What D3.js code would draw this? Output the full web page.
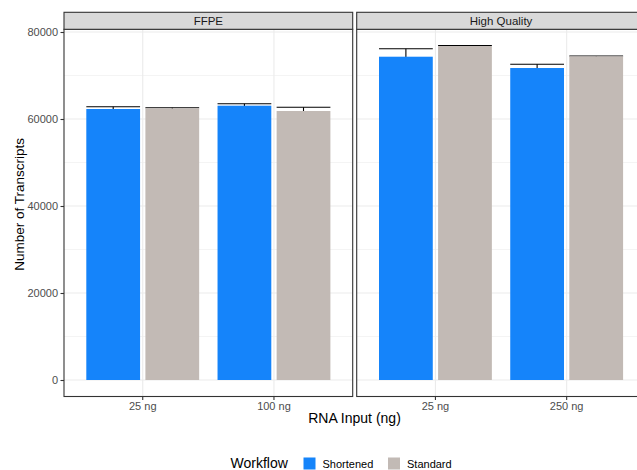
<!DOCTYPE html>
<html>
<head>
<meta charset="utf-8">
<script src="https://cdn.jsdelivr.net/npm/d3@7"></script>
<style>
	body { margin: 0; background: #fff; }
	svg { display: block; font-family: "Liberation Sans", Arial, Helvetica, sans-serif; }
</style>
</head>
<body>
<div id="chart"></div>
<script>
// data
var facets = ["FFPE", "High Quality"];
var ffpeInputs = ["25 ng", "100 ng"];
var hqInputs = ["25 ng", "250 ng"];
var workflows = ["Shortened", "Standard"];

var ffpeShortened = [62300, 63060];
var ffpeShortenedSd = [530, 460];
var ffpeStandard = [62450, 61840];
var ffpeStandardSd = [150, 850];

var hqShortened = [74320, 71720];
var hqShortenedSd = [1840, 850];
var hqStandard = [76780, 74410];
var hqStandardSd = [100, 60];

var yTicks = [0, 20000, 40000, 60000, 80000];
var yMinor = [10000, 30000, 50000, 70000];

function rows(inputs, shortened, shortSd, standard, stdSd) {
	var out = [];
	inputs.forEach(function (inp, i) {
		out.push({ input: inp, workflow: "Shortened", value: shortened[i], sd: shortSd[i] });
		out.push({ input: inp, workflow: "Standard", value: standard[i], sd: stdSd[i] });
	});
	return out;
}

var panels = [
	{ name: facets[0], inputs: ffpeInputs, data: rows(ffpeInputs, ffpeShortened, ffpeShortenedSd, ffpeStandard, ffpeStandardSd), left: 64, right: 352.7 },
	{ name: facets[1], inputs: hqInputs, data: rows(hqInputs, hqShortened, hqShortenedSd, hqStandard, hqStandardSd), left: 356.7, right: 645.4 }
];

function renderChart() {
	var W = 637, H = 470;
	var stripTop = 12.3, panelTop = 29.3, panelBottom = 396.5;

	var svg = d3.select("#chart")
		.append("svg")
		.attr("width", W)
		.attr("height", H);

	var y = d3.scaleLinear()
		.domain([0, 80000])
		.range([380, 32]);

	var color = d3.scaleOrdinal()
		.domain(workflows)
		.range(["#1584fa", "#c2bab5"]);

	panels.forEach(function (p) {
		var g = svg.append("g");

		var x = d3.scaleBand()
			.domain(p.inputs)
			.range([p.left, p.right])
			.paddingInner(0)
			.paddingOuter(0.1);

		var xInner = d3.scaleBand()
			.domain(workflows)
			.range([0.07 * x.bandwidth(), 0.93 * x.bandwidth()])
			.paddingInner(0.09);

		// grid
		g.selectAll("line.minor")
			.data(yMinor)
			.enter()
			.append("line")
			.attr("x1", p.left).attr("x2", p.right)
			.attr("y1", function (d) { return y(d); })
			.attr("y2", function (d) { return y(d); })
			.attr("stroke", "#ebebeb")
			.attr("stroke-width", 0.55);

		g.selectAll("line.major")
			.data(yTicks)
			.enter()
			.append("line")
			.attr("x1", p.left).attr("x2", p.right)
			.attr("y1", function (d) { return y(d); })
			.attr("y2", function (d) { return y(d); })
			.attr("stroke", "#ebebeb")
			.attr("stroke-width", 1.1);

		g.selectAll("line.vgrid")
			.data(p.inputs)
			.enter()
			.append("line")
			.attr("x1", function (d) { return x(d) + x.bandwidth() / 2; })
			.attr("x2", function (d) { return x(d) + x.bandwidth() / 2; })
			.attr("y1", panelTop).attr("y2", panelBottom)
			.attr("stroke", "#ebebeb")
			.attr("stroke-width", 1.1);

		// error bars sit under the bars
		var eb = g.selectAll("g.err")
			.data(p.data)
			.enter()
			.append("g");

		eb.append("line")
			.attr("x1", function (d) { return x(d.input) + xInner(d.workflow) + xInner.bandwidth() / 2; })
			.attr("x2", function (d) { return x(d.input) + xInner(d.workflow) + xInner.bandwidth() / 2; })
			.attr("y1", function (d) { return y(d.value - d.sd); })
			.attr("y2", function (d) { return y(d.value + d.sd); })
			.attr("stroke", "#000")
			.attr("stroke-width", 1.1);

		eb.append("line")
			.attr("x1", function (d) { return x(d.input) + xInner(d.workflow); })
			.attr("x2", function (d) { return x(d.input) + xInner(d.workflow) + xInner.bandwidth(); })
			.attr("y1", function (d) { return y(d.value + d.sd); })
			.attr("y2", function (d) { return y(d.value + d.sd); })
			.attr("stroke", "#000")
			.attr("stroke-width", 1.1);

		g.selectAll("rect.bar")
			.data(p.data)
			.enter()
			.append("rect")
			.attr("x", function (d) { return x(d.input) + xInner(d.workflow); })
			.attr("y", function (d) { return y(d.value); })
			.attr("width", xInner.bandwidth())
			.attr("height", function (d) { return y(0) - y(d.value); })
			.attr("fill", function (d) { return color(d.workflow); });

		// panel border
		g.append("rect")
			.attr("x", p.left).attr("y", panelTop)
			.attr("width", p.right - p.left).attr("height", panelBottom - panelTop)
			.attr("fill", "none")
			.attr("stroke", "#333")
			.attr("stroke-width", 1.1);

		// strip
		g.append("rect")
			.attr("x", p.left).attr("y", stripTop)
			.attr("width", p.right - p.left).attr("height", panelTop - stripTop)
			.attr("fill", "#d9d9d9")
			.attr("stroke", "#333")
			.attr("stroke-width", 1.1);

		g.append("text")
			.attr("x", (p.left + p.right) / 2)
			.attr("y", (stripTop + panelTop) / 2)
			.attr("dy", "0.35em")
			.attr("text-anchor", "middle")
			.style("font-size", "11.5px")
			.style("fill", "#1a1a1a")
			.text(p.name);

		// x axis
		var xAxis = g.append("g")
			.attr("transform", "translate(0," + panelBottom + ")")
			.call(d3.axisBottom(x).tickSize(3.5).tickPadding(2.5));
		xAxis.select(".domain").remove();
		xAxis.selectAll(".tick line").attr("stroke", "#333").attr("stroke-width", 1.1);
		xAxis.selectAll(".tick text")
			.style("font-size", "11px")
			.style("font-family", "inherit")
			.attr("fill", "#4d4d4d");
	});

	// y axis on the left panel
	var yAxis = svg.append("g")
		.attr("transform", "translate(64,0)")
		.call(d3.axisLeft(y).tickValues(yTicks).tickFormat(d3.format("d")).tickSize(3.5).tickPadding(2.5));
	yAxis.select(".domain").remove();
	yAxis.selectAll(".tick line").attr("stroke", "#333").attr("stroke-width", 1.1);
	yAxis.selectAll(".tick text")
		.style("font-size", "11px")
		.style("font-family", "inherit")
		.attr("fill", "#4d4d4d");

	// axis titles
	svg.append("text")
		.attr("x", 354.5)
		.attr("y", 423)
		.attr("text-anchor", "middle")
		.style("font-size", "14px")
		.text("RNA Input (ng)");

	svg.append("text")
		.attr("transform", "translate(24," + ((stripTop + panelBottom) / 2) + ") rotate(-90)")
		.attr("text-anchor", "middle")
		.style("font-size", "13.5px")
		.text("Number of Transcripts");

	// legend
	svg.append("text")
		.attr("x", 230.5)
		.attr("y", 468)
		.style("font-size", "14px")
		.text("Workflow");

	var legendX = [303.5, 388];
	var legend = svg.selectAll("g.legend")
		.data(workflows)
		.enter()
		.append("g")
		.attr("transform", function (d, i) {
			return "translate(" + legendX[i] + ",457.5)";
		});

	legend.append("rect")
		.attr("width", 12)
		.attr("height", 12)
		.attr("fill", function (d) { return color(d); });

	legend.append("text")
		.attr("x", 19)
		.attr("y", 10)
		.style("font-size", "11px")
		.text(function (d) { return d; });
}

renderChart();
</script>
</body>
</html>
